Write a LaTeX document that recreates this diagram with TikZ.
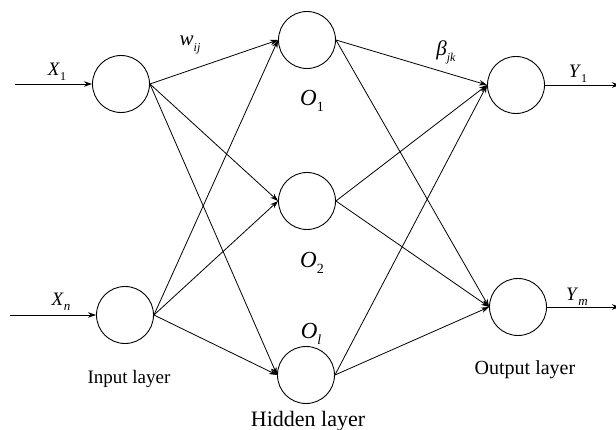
\documentclass[tikz,border=0pt]{standalone}
\usepackage{fontspec}
\setmainfont{Liberation Serif}
\usetikzlibrary{arrows.meta}
\newcommand\fsz[1]{\fontsize{#1}{#1}\selectfont}
\newcommand\sublab[4]{\fsz{#1}\textit{#2}\raisebox{-0.28em}{\fsz{#3}#4}}
\begin{document}
\begin{tikzpicture}[x=1pt,y=-1pt,
  neuron/.style={circle,draw,line width=0.9pt,minimum size=57pt,inner sep=0pt},
  conn/.style={line width=0.8pt,-{Stealth[length=8pt,width=5.5pt]}},
  lab/.style={inner sep=0pt},
  layerlab/.style={inner sep=0pt,anchor=base}]
\useasboundingbox[fill=white] (0,0) rectangle (616,430);
% neurons
\node[neuron] (x1) at (121,84) {};
\node[neuron] (xn) at (125,315) {};
\node[neuron] (h1) at (307,40) {};
\node[neuron] (h2) at (307,201) {};
\node[neuron] (hl) at (306,375) {};
\node[neuron] (y1) at (516,85) {};
\node[neuron] (ym) at (518,307) {};
% free ends
\coordinate (in1) at (15,84);
\coordinate (inn) at (10,315);
\coordinate (out1) at (620,85);
\coordinate (outm) at (620,307);
% input arrows
\draw[conn] (in1) -- (x1.west);
\draw[conn] (inn) -- (xn.west);
% input -> hidden
\foreach \i in {x1,xn}{
  \foreach \h in {h1,h2,hl}{
    \draw[conn] (\i.east) -- (\h.west);
  }
}
% hidden -> output
\foreach \h in {h1,h2,hl}{
  \foreach \o in {y1,ym}{
    \draw[conn] (\h.east) -- (\o.west);
  }
}
% output arrows
\draw[conn] (y1.east) -- (out1);
\draw[conn] (ym.east) -- (outm);
% labels
\node[lab] (lx1) at (57,72) {\sublab{19}{X}{12}{1}};
\node[lab] (lxn) at (61,302) {\sublab{19}{X}{13}{\textit{n}}};
\node[lab] (lw) at (190,45) {\sublab{21}{w}{12}{\textit{ij}}};
\node[lab] (lb) at (446,52) {\sublab{21}{β}{12}{\textit{jk}}};
\node[lab] (ly1) at (578,74) {\sublab{19}{Y}{12}{1}};
\node[lab] (lym) at (577,297) {\sublab{19}{Y}{13}{\textit{m}}};
\node[lab] (lo1) at (312,101) {\sublab{23}{O}{14}{1}};
\node[lab] (lo2) at (312,263) {\sublab{23}{O}{14}{2}};
\node[lab] (lol) at (311,334) {\sublab{23}{O}{14}{\textit{l}}};
\node[layerlab] (linput) at (129,384) {\fsz{19}Input layer};
\node[layerlab] (loutput) at (525,374) {\fsz{20}Output layer};
\node[layerlab] (lhidden) at (308,426) {\fsz{22}Hidden layer};
\end{tikzpicture}
\end{document}
